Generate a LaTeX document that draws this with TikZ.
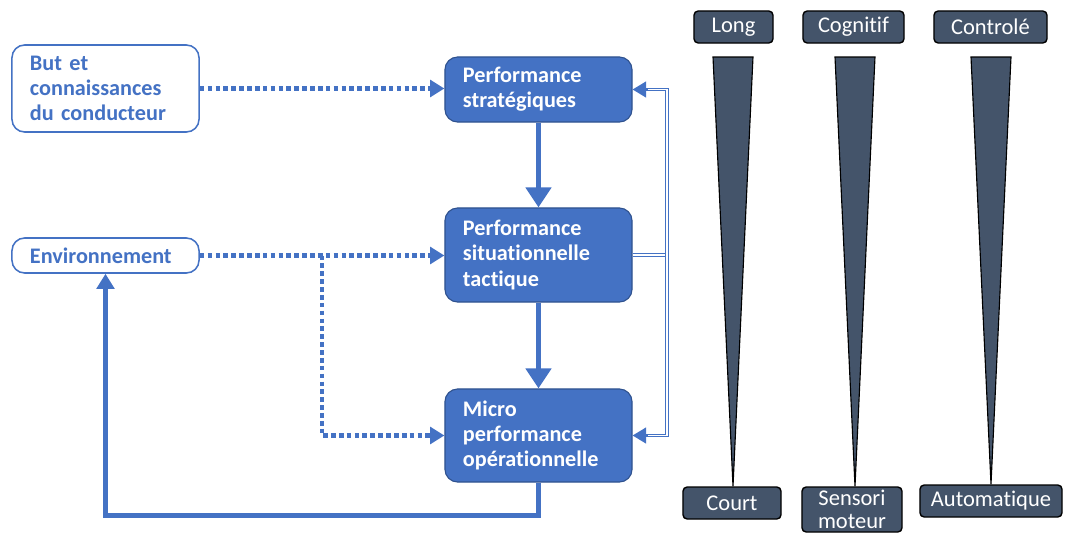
\documentclass[tikz,border=0pt]{standalone}
\usepackage{fontspec}
\setmainfont{Carlito}[Ligatures=CommonOff]
\usepackage{xcolor}
\definecolor{bleu}{HTML}{4472C4}
\definecolor{bleufonce}{HTML}{2F528F}
\definecolor{ardoise}{HTML}{44546A}
\usetikzlibrary{arrows.meta,calc,positioning}

\begin{document}
\begin{tikzpicture}[x=0.025cm,y=-0.025cm]
		\tikzset{
			boiteblanche/.style={draw=bleu,line width=1.1pt,fill=white,rounded corners=9pt,
				align=left,inner xsep=0.45cm,text width=3.775cm,minimum width=4.675cm,
				text=bleu,font=\bfseries\fontsize{15.8}{18}\selectfont},
			boitebleue/.style={draw=bleufonce,line width=0.8pt,fill=bleu,rounded corners=9pt,
				align=left,inner xsep=0.45cm,text width=3.775cm,minimum width=4.675cm,
				text=white,font=\bfseries\fontsize{15.8}{18}\selectfont},
			etiquette/.style={draw=black,line width=1pt,fill=ardoise,rounded corners=3pt,
				text=white,align=center,minimum height=0.8cm,inner sep=1pt,
				font=\fontsize{16}{16.5}\selectfont},
			pointille/.style={bleu,line width=3pt,dash pattern=on 3.3pt off 2.3pt,
				-{Triangle[length=0.36cm,width=0.42cm]}},
			pleine/.style={bleu,line width=3.8pt,-{Triangle[length=0.5cm,width=0.62cm]}},
			retour/.style={bleu,line width=3pt,-{Triangle[length=0.38cm,width=0.44cm]}},
			dbl/.style={bleu,double,double distance=1.3pt,line width=0.7pt},
			pointe/.style={bleu,line width=1pt,-{Triangle[length=0.34cm,width=0.4cm]}},
			cone/.style={draw=black,line width=0.8pt,fill=ardoise,line join=miter}
		}
		\useasboundingbox (0,0) rectangle (1068,534);
		%%%boites de gauche
		\path (105.5,88.5) node[boiteblanche,minimum height=2.175cm] (but) {But et\\connaissances\\du conducteur};
		\path (105.5,255.5) node[boiteblanche,minimum height=0.875cm] (env) {Environnement};
		%%%niveaux de performance
		\path (538.5,89.5) node[boitebleue,minimum height=1.625cm] (strat) {Performance\\strat\'egiques};
		\path (538.5,255) node[boitebleue,minimum height=2.35cm] (sit) {Performance\\situationnelle\\tactique};
		\path (538.5,435.5) node[boitebleue,minimum height=2.325cm] (micro) {Micro\\performance\\op\'erationnelle};
		%%%fleches pleines
		\draw[pleine] (strat.south) -- (sit.north);
		\draw[pleine] (sit.south) -- (micro.north);
		\draw[retour] (micro.south) -- ++(0,33) -| (env.south);
		%%%fleches pointillees
		\draw[pointille] (but.east) -- (but.east -| strat.west);
		\coordinate (branche) at (322,255.5);
		\draw[pointille] (env.east) -- (env.east -| sit.west);
		\draw[pointille] (branche) |- (micro.west);
		%%%retour double
		\coordinate (vx) at (667,255);
		\draw[dbl] (sit.east) -- (sit.east -| vx);
		\draw[dbl] ($(strat.east)+(13,0)$) -| (vx |- micro.east) -- ($(micro.east)+(13,0)$);
		\draw[pointe] ($(strat.east)+(15,0)$) -- (strat.east);
		\draw[pointe] ($(micro.east)+(15,0)$) -- (micro.east);
		%%%echelles de droite
		\path (733.5,27) node[etiquette,minimum width=1.975cm] (long) {Long};
		\path (853.5,27) node[etiquette,minimum width=2.525cm] (cog) {Cognitif};
		\path (990.5,27) node[etiquette,minimum width=2.825cm] (ctrl) {Control\'e};
		\path (732,503) node[etiquette,minimum width=2.45cm] (court) {Court};
		\path (852,509.5) node[etiquette,minimum width=2.5cm,minimum height=1.125cm] (sens) {Sensori\\moteur};
		\path (991,501) node[etiquette,minimum width=3.55cm] (auto) {Automatique};
		\foreach \cx/\bas in {733/court,855/sens,991/auto}{%
			\coordinate (s\bas) at (\cx,57);
			\draw[cone] ($(s\bas)+(-20,0)$) -- ($(s\bas)+(20,0)$) -- (\bas.north -| s\bas) -- cycle;
		}
	\end{tikzpicture}
\end{document}
